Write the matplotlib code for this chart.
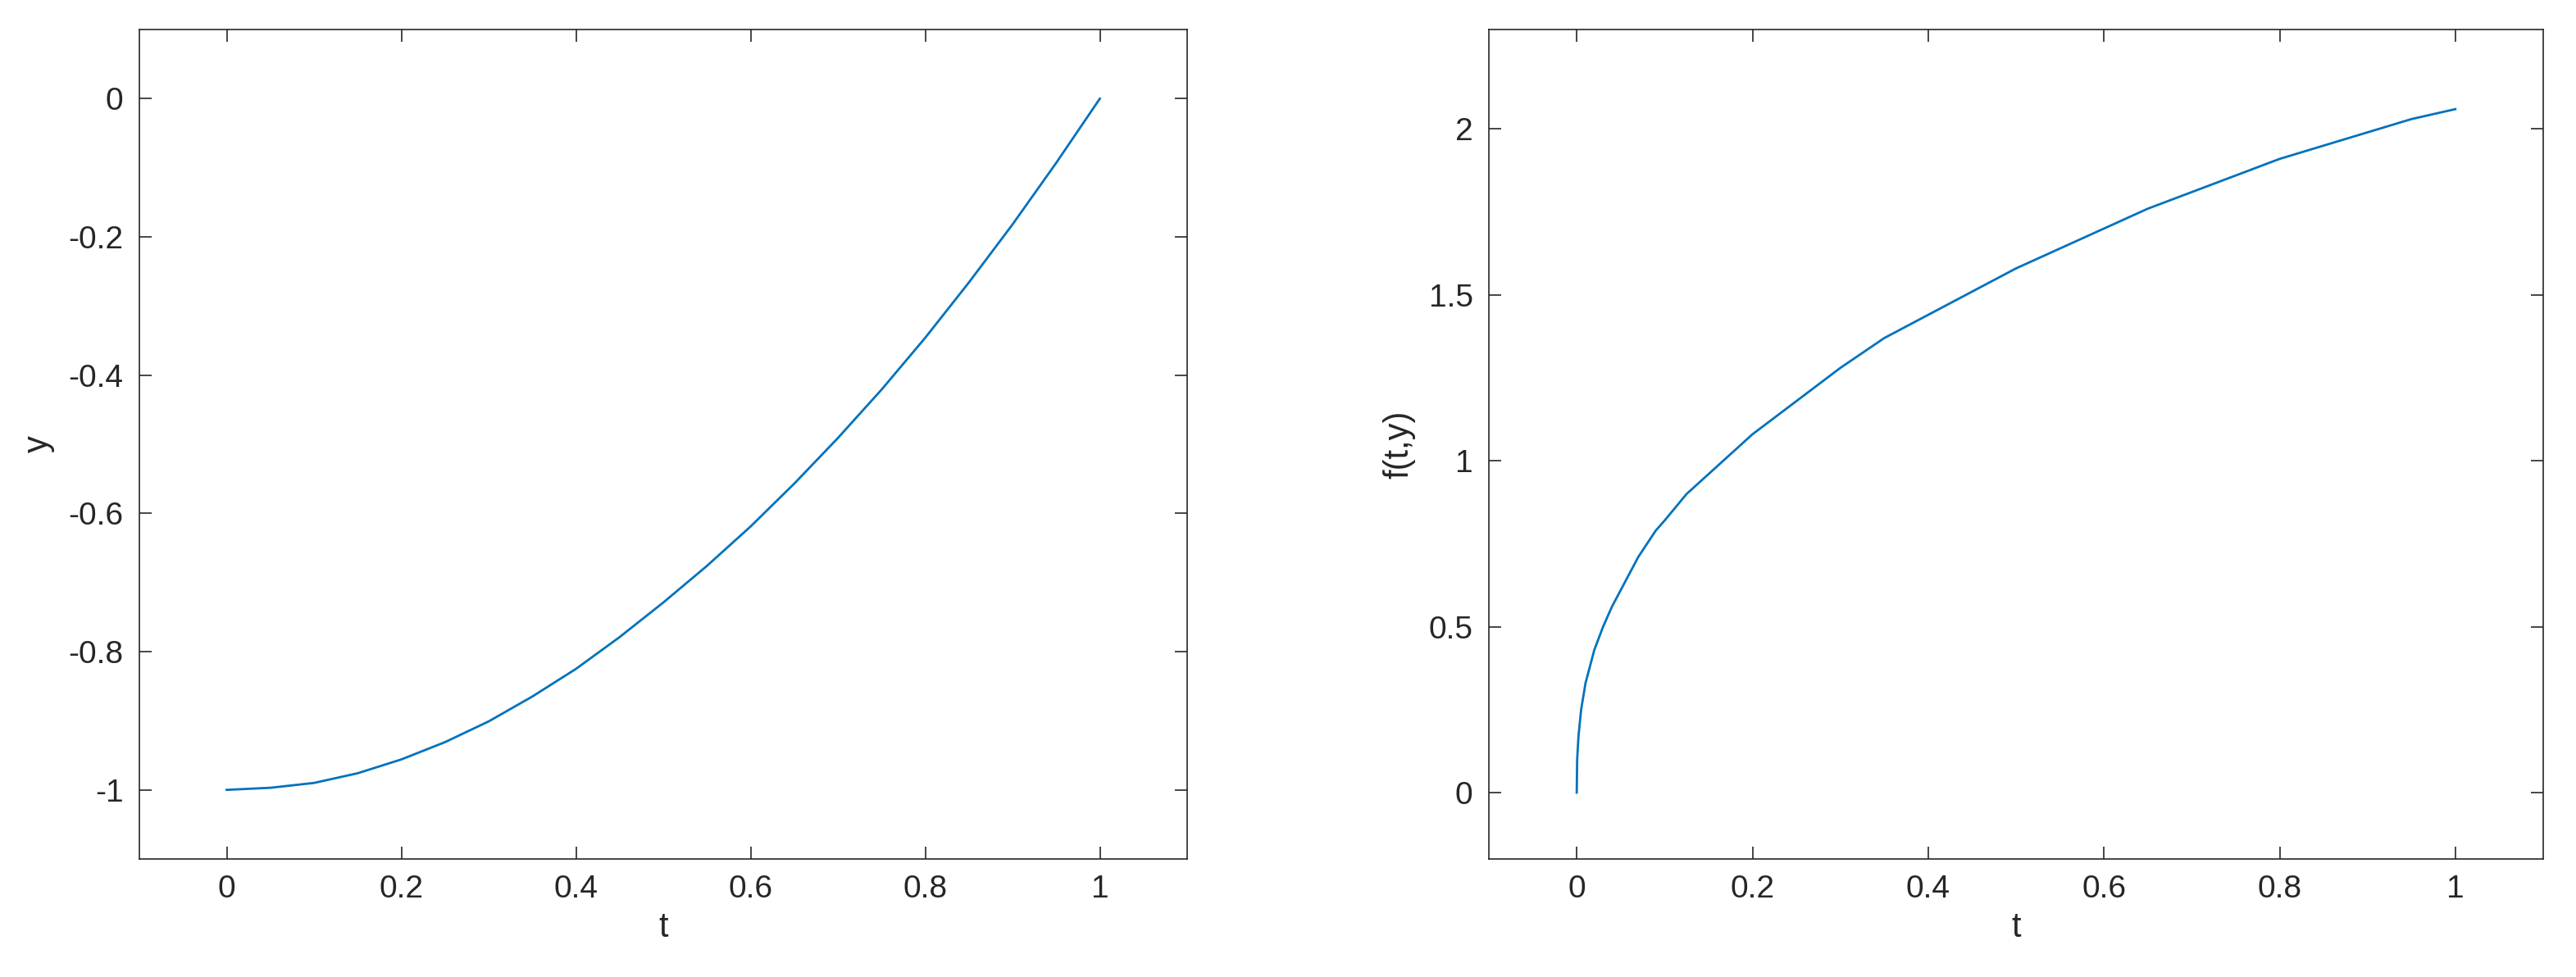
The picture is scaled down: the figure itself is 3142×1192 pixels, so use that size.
import matplotlib
matplotlib.use("Agg")
import matplotlib.pyplot as plt

t_left = [0, 0.05, 0.1, 0.15, 0.2, 0.25, 0.3, 0.35, 0.4, 0.45, 0.5, 0.55, 0.6, 0.65, 0.7, 0.75, 0.8, 0.85, 0.9, 0.95, 1.0]
y_left = [-1.0, -0.997, -0.99, -0.976, -0.956, -0.931, -0.901, -0.865, -0.825, -0.779, -0.729, -0.676, -0.619, -0.557, -0.491, -0.421, -0.346, -0.266, -0.182, -0.093, 0.0]
t_right = [0, 0.0005, 0.002, 0.005, 0.01, 0.015, 0.02, 0.03, 0.04, 0.05, 0.06, 0.07, 0.08, 0.09, 0.1, 0.125, 0.15, 0.175, 0.2, 0.25, 0.3, 0.35, 0.4, 0.45, 0.5, 0.55, 0.6, 0.65, 0.7, 0.75, 0.8, 0.85, 0.9, 0.95, 1.0]
f_right = [0, 0.1, 0.17, 0.25, 0.33, 0.38, 0.43, 0.5, 0.56, 0.61, 0.66, 0.71, 0.75, 0.79, 0.82, 0.9, 0.96, 1.02, 1.08, 1.18, 1.28, 1.37, 1.44, 1.51, 1.58, 1.64, 1.70, 1.76, 1.81, 1.86, 1.91, 1.95, 1.99, 2.03, 2.06]

plt.rcParams['font.family'] = ['Liberation Sans', 'DejaVu Sans']
fig = plt.figure(figsize=(31.42, 11.92), dpi=100)
ax1 = fig.add_axes([170/3142, 1-1048/1192, 1278/3142, 1012/1192])
ax2 = fig.add_axes([1816/3142, 1-1048/1192, 1286/3142, 1012/1192])
color = '#0072BD'
ax1.plot(t_left, y_left, color=color, lw=2.0)
ax2.plot(t_right, f_right, color=color, lw=2.0)
ax1.set_xlim(-0.1, 1.1); ax1.set_ylim(-1.1, 0.1)
ax1.set_yticks([-1, -0.8, -0.6, -0.4, -0.2, 0])
ax1.set_yticklabels(['-1', '-0.8', '-0.6', '-0.4', '-0.2', '0'])
ax2.set_xlim(-0.1, 1.1); ax2.set_ylim(-0.2, 2.3)
ax2.set_yticks([0, 0.5, 1, 1.5, 2])
ax2.set_yticklabels(['0', '0.5', '1', '1.5', '2'])
for ax in (ax1, ax2):
    ax.set_xticks([0, 0.2, 0.4, 0.6, 0.8, 1])
    ax.set_xticklabels(['0', '0.2', '0.4', '0.6', '0.8', '1'])
    ax.tick_params(direction='in', top=True, right=True, labelsize=28, length=11, width=1.2, colors='#262626', pad=14)
    for s in ax.spines.values():
        s.set_color('#262626'); s.set_linewidth(1.2)
    ax.set_xlabel('t', fontsize=30, color='#262626', labelpad=6)
ax1.set_ylabel('y', fontsize=30, color='#262626', labelpad=12)
ax2.set_ylabel('f(t,y)', fontsize=30, color='#262626', labelpad=12)
fig.savefig('out.png', dpi=100)
